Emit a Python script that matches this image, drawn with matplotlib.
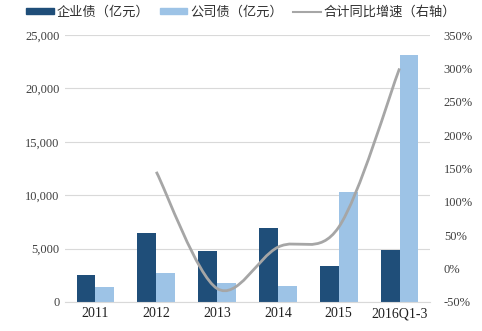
import numpy as np
import matplotlib.pyplot as plt
from matplotlib.path import Path
from matplotlib.patches import PathPatch
from matplotlib.lines import Line2D
from matplotlib.patches import Patch

plt.rcParams['font.family'] = ['Noto Sans CJK SC', 'DejaVu Sans']

categories = ['2011', '2012', '2013', '2014', '2015', '2016Q1-3']
qiye = [2500, 6500, 4800, 6900, 3350, 4900]
gongsi = [1400, 2700, 1750, 1500, 10300, 23100]
growth_idx = [1, 2, 3, 4, 5]
growth = [145, -30, 32, 62, 300]

dark = '#1F4E79'
light = '#9DC3E6'
gray = '#A6A6A6'

fig = plt.figure(figsize=(4.82, 3.31), dpi=100)
ax = fig.add_axes([0.135, 0.088, 0.757, 0.806])
x = np.arange(len(categories))
w = 0.31
ax.bar(x - w / 2, qiye, w, color=dark, zorder=2)
ax.bar(x + w / 2, gongsi, w, color=light, zorder=2)
ax.set_xlim(-0.5, 5.5)
ax.set_ylim(0, 25000)
ax.set_yticks(range(0, 25001, 5000))
ax.set_yticklabels(['0', '5,000', '10,000', '15,000', '20,000', '25,000'],
                   family='Liberation Serif', fontsize=9, color='#404040')
ax.set_xticks(x)
ax.set_xticklabels(categories, family='Liberation Serif', fontsize=10, color='#202020')
ax.grid(axis='y', color='#D9D9D9', linewidth=0.8, zorder=0)
for s in ['top', 'left', 'right']:
    ax.spines[s].set_visible(False)
ax.spines['bottom'].set_color('#D9D9D9')
ax.tick_params(length=0, pad=4)

ax2 = ax.twinx()
ax2.set_ylim(-50, 350)
ax2.set_yticks(range(-50, 351, 50))
ax2.set_yticklabels([f'{v}%' for v in range(-50, 351, 50)],
                    family='Liberation Serif', fontsize=9, color='#404040')
for s in ax2.spines.values():
    s.set_visible(False)
ax2.tick_params(length=0, pad=10)

# smoothed line (Excel-style bezier through the data points)
px = np.array(growth_idx, dtype=float)
py = np.array(growth, dtype=float)
verts = [(px[0], py[0])]
codes = [Path.MOVETO]
t = 1 / 6
for i in range(len(px) - 1):
    p0 = (px[i - 1], py[i - 1]) if i > 0 else (px[i], py[i])
    p1 = (px[i], py[i])
    p2 = (px[i + 1], py[i + 1])
    p3 = (px[i + 2], py[i + 2]) if i + 2 < len(px) else p2
    c1 = (p1[0] + (p2[0] - p0[0]) * t, p1[1] + (p2[1] - p0[1]) * t)
    c2 = (p2[0] - (p3[0] - p1[0]) * t, p2[1] - (p3[1] - p1[1]) * t)
    verts += [c1, c2, p2]
    codes += [Path.CURVE4] * 3
ax2.add_patch(PathPatch(Path(verts, codes), facecolor='none', edgecolor=gray,
                        linewidth=2, zorder=3))

handles = [Patch(color=dark), Patch(color=light), Line2D([], [], color=gray, linewidth=1.5)]
labels = ['企业债（亿元）', '公司债（亿元）', '合计同比增速（右轴）']
fig.legend(handles, labels, loc='center', bbox_to_anchor=(0.50, 0.962), ncol=3,
           frameon=False, prop={'size': 9.5, 'weight': 'medium'},
           handlelength=2.1, handleheight=0.35,
           columnspacing=0.8, handletextpad=0.2, labelcolor='#303030')

fig.savefig('out.png', dpi=100)
